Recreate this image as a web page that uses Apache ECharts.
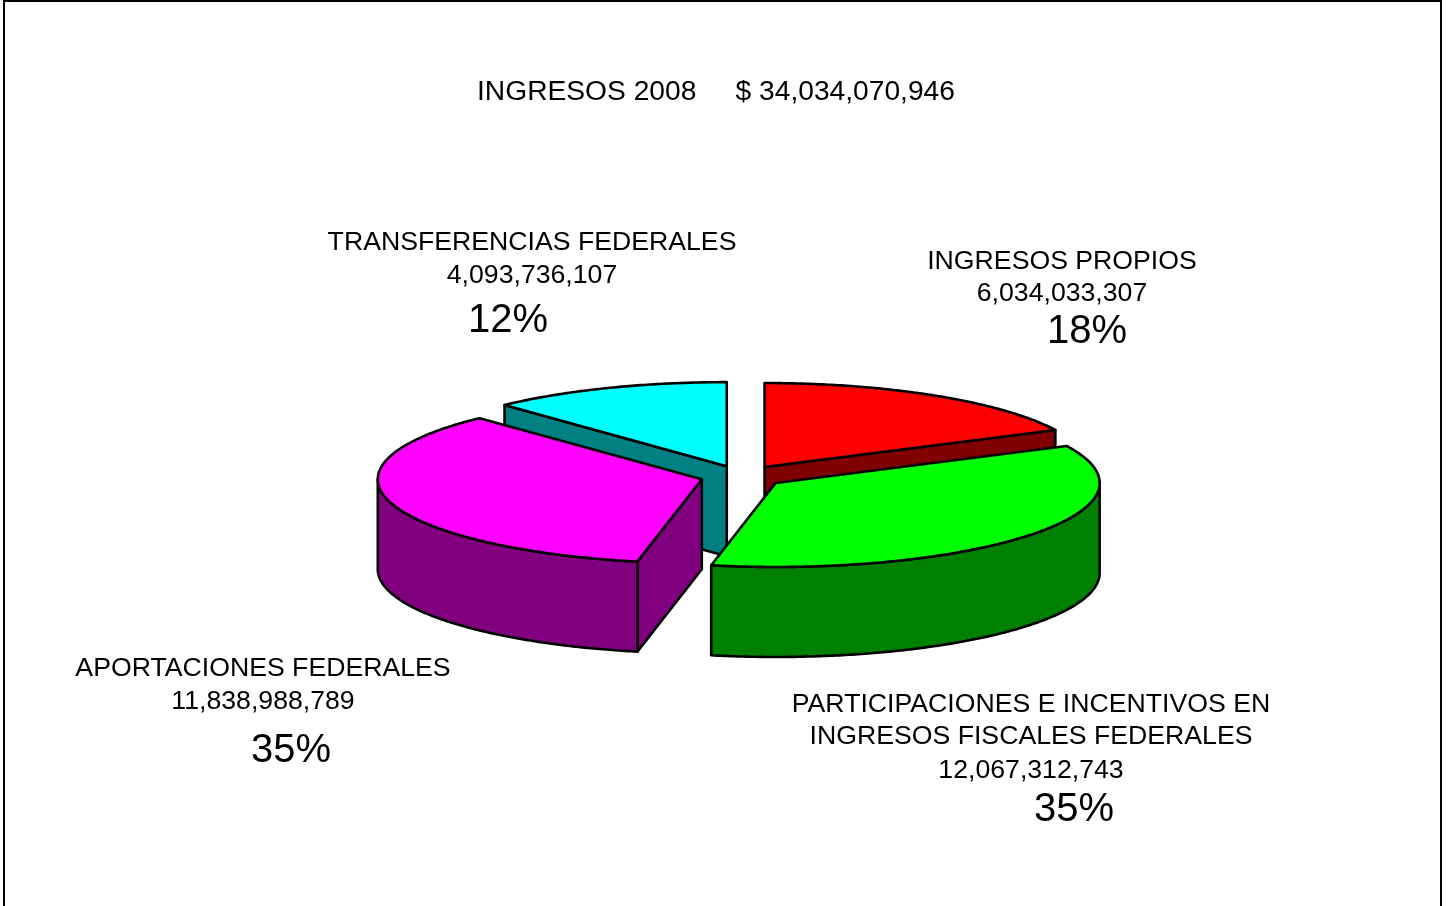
<!DOCTYPE html>
<html>
<head>
<meta charset="utf-8">
<style>html,body{margin:0;padding:0;background:#fff;overflow:hidden}#c{width:1451px;height:906px}</style>
<script src="https://cdn.jsdelivr.net/npm/echarts@6/dist/echarts.min.js"></script>
</head>
<body>
<div id="c"></div>
<script>
const titleText = 'INGRESOS 2008     $ 34,034,070,946';
const categories = ['INGRESOS PROPIOS', 'PARTICIPACIONES E INCENTIVOS EN\nINGRESOS FISCALES FEDERALES', 'APORTACIONES FEDERALES', 'TRANSFERENCIAS FEDERALES'];
const values = [6034033307, 12067312743, 11838988789, 4093736107];
const percentLabels = ['18%', '35%', '35%', '12%'];
const topColors = ['#FF0000', '#00FF00', '#FF00FF', '#00FFFF'];
const sideColors = ['#800000', '#008000', '#800080', '#008080'];
const paintRank = [2, 4, 3, 1];

const nameLines = categories.map(c => c.split('\n'));
const labelLineY = [[262, 294], [705, 737, 771], [669, 702], [243, 276]];
const labelCentreX = [1062, 1031, 263, 532];
const percentPos = [[1087, 332], [1074, 810], [291, 751], [508, 321]];

const FONT = '"Liberation Sans", Arial, sans-serif';
const total = values.reduce((a, b) => a + b, 0);
const DEPTH = 90 / 84;      // wall height in disc-radius units
const EXPLODE = 0.13;       // slice offset in disc-radius units
const cum = [];
values.reduce((s, v, i) => (cum[i] = s, s + v), 0);

function renderSlice(params, api) {
  const i = params.dataIndex;
  const a0 = cum[i] / total * 2 * Math.PI;
  const a1 = (cum[i] + api.value(0)) / total * 2 * Math.PI;
  const mid = (a0 + a1) / 2;
  const ox = EXPLODE * Math.sin(mid), oy = EXPLODE * Math.cos(mid);
  const P = (a, r, drop) => api.coord([ox + r * Math.sin(a), oy + r * Math.cos(a) - (drop || 0)]);
  const arc = (s, e, drop) => {
    const n = Math.max(2, Math.ceil((e - s) / 0.01));
    const pts = [];
    for (let k = 0; k <= n; k++) pts.push(P(s + (e - s) * k / n, 1, drop));
    return pts;
  };
  const z = paintRank[i] * 10;
  const style = fill => ({ fill, stroke: '#000', lineWidth: 2.6, lineJoin: 'round' });
  const children = [];
  const wall = a => ({
    type: 'polygon', z2: z,
    shape: { points: [P(0, 0), P(a, 1), P(a, 1, DEPTH), P(0, 0, DEPTH)] },
    style: style(sideColors[i])
  });
  if (Math.sin(a0) < -1e-6) children.push(wall(a0));
  if (Math.sin(a1) > 1e-6) children.push(wall(a1));
  const vs = Math.max(a0, Math.PI / 2), ve = Math.min(a1, 3 * Math.PI / 2);
  if (ve > vs) {
    const upper = arc(vs, ve, 0);
    const lower = arc(vs, ve, DEPTH).reverse();
    children.push({
      type: 'polygon', z2: z + 1,
      shape: { points: upper.concat(lower) },
      style: style(sideColors[i])
    });
  }
  children.push({
    type: 'polygon', z2: z + 2,
    shape: { points: [P(0, 0)].concat(arc(a0, a1, 0)) },
    style: style(topColors[i])
  });
  return { type: 'group', children };
}

const fmt = v => v.toLocaleString('en-US');
const textEl = (text, x, y, size) => ({
  type: 'text', x, y, z: 20,
  style: { text, font: size + 'px ' + FONT, fill: '#000', textAlign: 'center', textVerticalAlign: 'middle' }
});
const labels = [];
values.forEach((v, i) => {
  const lines = nameLines[i].concat([fmt(v)]);
  lines.forEach((t, k) => labels.push(textEl(t, labelCentreX[i], labelLineY[i][k], 26.67)));
  labels.push(textEl(percentLabels[i], percentPos[i][0], percentPos[i][1], 40));
});

const chart = echarts.init(document.getElementById('c'), null, { renderer: 'canvas' });
chart.setOption({
  animation: false,
  backgroundColor: '#fff',
  grid: { left: 256.3, top: 350.3, width: 972, height: 252, containLabel: false },
  xAxis: { type: 'value', min: -1.5, max: 1.5, show: false },
  yAxis: { type: 'value', min: -1.5, max: 1.5, show: false },
  tooltip: { show: false },
  series: [{
    type: 'custom',
    coordinateSystem: 'cartesian2d',
    clip: false,
    silent: true,
    encode: { x: 1, y: 2 },
    data: values.map(v => [v, 0, 0]),
    renderItem: renderSlice
  }],
  graphic: { elements: [
    { type: 'rect', z: 1, shape: { x: 4, y: 1, width: 1437, height: 920 },
      style: { fill: 'transparent', stroke: '#000', lineWidth: 2 } },
    textEl(titleText, 716, 92, 28.2)
  ].concat(labels) }
});
</script>
</body>
</html>
